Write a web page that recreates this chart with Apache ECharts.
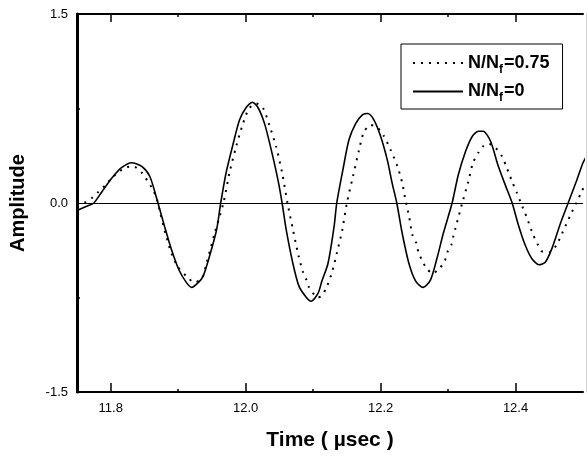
<!DOCTYPE html>
<html>
<head>
<meta charset="utf-8">
<script src="https://cdn.jsdelivr.net/npm/echarts@6/dist/echarts.min.js"></script>
<style>
html,body{margin:0;padding:0;background:#fff;}
#c{width:588px;height:456px;}
</style>
</head>
<body>
<div id="c"></div>
<script>
// Series names (legend order)
var seriesNames = ['N/Nf=0.75', 'N/Nf=0'];

// N/Nf = 0 (solid) : time (µsec), amplitude
var solidTime = [11.750,11.767,11.775,11.787,11.802,11.816,11.831,11.846,11.858,11.870,11.880,11.890,11.901,11.912,11.920,11.930,11.937,11.946,11.957,11.963,11.971,11.981,11.991,12.001,12.010,12.018,12.028,12.038,12.048,12.054,12.060,12.070,12.079,12.090,12.097,12.107,12.113,12.122,12.131,12.135,12.144,12.153,12.163,12.173,12.181,12.190,12.200,12.210,12.217,12.224,12.232,12.242,12.252,12.263,12.274,12.284,12.293,12.306,12.315,12.326,12.336,12.345,12.352,12.363,12.374,12.385,12.395,12.404,12.414,12.424,12.435,12.444,12.454,12.466,12.478,12.490,12.500,12.505];
var solidAmp  = [-0.06,-0.02,0.00,0.09,0.20,0.28,0.32,0.29,0.21,0.00,-0.19,-0.37,-0.53,-0.63,-0.67,-0.63,-0.58,-0.43,-0.21,0.00,0.24,0.46,0.66,0.76,0.80,0.76,0.63,0.42,0.18,0.00,-0.21,-0.48,-0.66,-0.75,-0.78,-0.72,-0.62,-0.48,-0.19,0.00,0.26,0.50,0.63,0.70,0.71,0.66,0.53,0.34,0.16,0.00,-0.24,-0.48,-0.62,-0.67,-0.61,-0.43,-0.24,0.00,0.22,0.41,0.53,0.57,0.57,0.49,0.30,0.14,0.00,-0.17,-0.33,-0.44,-0.49,-0.47,-0.36,-0.17,0.00,0.17,0.32,0.37];

// N/Nf = 0.75 (dotted)
var dotTime = [11.750,11.760,11.772,11.782,11.792,11.802,11.821,11.834,11.846,11.861,11.868,11.873,11.881,11.890,11.900,11.912,11.924,11.935,11.942,11.954,11.967,11.976,11.986,11.996,12.005,12.016,12.026,12.035,12.045,12.054,12.062,12.070,12.078,12.085,12.090,12.094,12.102,12.107,12.112,12.119,12.128,12.135,12.143,12.150,12.159,12.168,12.175,12.185,12.195,12.205,12.215,12.225,12.232,12.237,12.242,12.247,12.253,12.256,12.261,12.267,12.277,12.287,12.295,12.299,12.305,12.308,12.311,12.321,12.330,12.337,12.345,12.352,12.360,12.370,12.380,12.387,12.395,12.402,12.408,12.417,12.426,12.433,12.441,12.451,12.461,12.470,12.481,12.490,12.498,12.505];
var dotAmp  = [-0.02,0.00,0.04,0.09,0.14,0.20,0.28,0.29,0.24,0.12,0.04,-0.07,-0.24,-0.40,-0.51,-0.58,-0.63,-0.60,-0.48,-0.24,0.00,0.24,0.45,0.63,0.75,0.79,0.75,0.62,0.45,0.24,0.00,-0.21,-0.41,-0.55,-0.61,-0.67,-0.73,-0.75,-0.74,-0.68,-0.55,-0.40,-0.22,0.00,0.21,0.42,0.56,0.62,0.60,0.53,0.42,0.29,0.16,0.02,-0.10,-0.25,-0.32,-0.39,-0.45,-0.51,-0.56,-0.52,-0.46,-0.39,-0.33,-0.26,-0.20,0.00,0.17,0.32,0.40,0.45,0.47,0.44,0.37,0.28,0.17,0.08,0.00,-0.12,-0.25,-0.33,-0.39,-0.39,-0.33,-0.23,-0.10,0.00,0.09,0.17];

// Axis ticks
var xMajorTicks = [11.8, 12.0, 12.2, 12.4];
var xMinorTicks = [11.9, 12.1, 12.3];
var xMin = 11.75, xMax = 12.5;
var yMin = -1.5, yMax = 1.5, yStep = 1.5;

function zip(a, b) { var r = []; for (var i = 0; i < a.length; i++) r.push([a[i], b[i]]); return r; }

var FONT = '"Liberation Sans", Arial, Helvetica, sans-serif';
var chart = echarts.init(document.getElementById('c'), null, {renderer: 'canvas'});

function xAx(pos, ticks, len, showLine, showLabel, extra) {
  var o = {
    type: 'value', position: pos, min: xMin, max: xMax,
    axisLine: {show: showLine, onZero: false, lineStyle: {color: '#000', width: 2}},
    axisTick: {show: true, inside: true, length: len, customValues: ticks, lineStyle: {color: '#000', width: 1.5}},
    axisLabel: {show: showLabel, customValues: ticks, formatter: function (v) { return Number(v).toFixed(1); },
      fontSize: 13, color: '#000', fontFamily: FONT, margin: 10},
    splitLine: {show: false}
  };
  for (var k in extra) o[k] = extra[k];
  return o;
}

chart.setOption({
  animation: false,
  backgroundColor: '#fff',
  grid: {left: 75, right: 5, top: 14, bottom: 64, containLabel: false},
  legend: {
    orient: 'vertical', left: 401, top: 44,
    data: seriesNames,
    padding: [10, 13, 5, 11], itemGap: 7, itemWidth: 50, itemHeight: 14,
    borderColor: '#000', borderWidth: 1, borderRadius: 0,
    itemStyle: {color: 'transparent', borderColor: 'transparent', borderWidth: 0, opacity: 0},
    textStyle: {
      color: '#000', fontFamily: FONT,
      rich: {
        a: {fontSize: 18, fontWeight: 'bold', fontFamily: FONT, color: '#000'},
        s: {fontSize: 12, fontWeight: 'bold', fontFamily: FONT, color: '#000', padding: [13, 1, 0, 0]}
      }
    },
    formatter: function (name) {
      var rest = name.split('Nf')[1];
      return '{a|N/N}{s|f}{a|' + rest + '}';
    }
  },
  xAxis: [
    xAx('bottom', xMajorTicks, 9, true, true, {
      name: 'Time ( \u00b5sec )', nameLocation: 'middle', nameGap: 38,
      nameTextStyle: {fontSize: 21, fontWeight: 'bold', color: '#000', fontFamily: FONT}
    }),
    xAx('bottom', xMinorTicks, 3, false, false, {}),
    xAx('top', xMajorTicks, 8, true, false, {}),
    xAx('top', xMinorTicks, 3, false, false, {})
  ],
  yAxis: [
    {
      type: 'value', position: 'left', min: yMin, max: yMax, interval: yStep,
      axisLine: {show: true, onZero: false, lineStyle: {color: '#000', width: 3}},
      axisTick: {show: true, inside: true, length: 6, lineStyle: {color: '#000', width: 1}},
      minorTick: {show: true, splitNumber: 2, length: 3, lineStyle: {color: '#000', width: 1.5}},
      axisLabel: {formatter: function (v) { return Number(v).toFixed(1); }, fontSize: 13, color: '#000', fontFamily: FONT, margin: 9},
      splitLine: {show: true, lineStyle: {color: '#000', width: 1}},
      name: 'Amplitude', nameLocation: 'middle', nameGap: 49, nameRotate: 90,
      nameTextStyle: {fontSize: 20, fontWeight: 'bold', color: '#000', fontFamily: FONT}
    },
    {
      type: 'value', position: 'right', min: yMin, max: yMax, offset: 3,
      axisLine: {show: true, lineStyle: {color: '#d4d4d4', width: 1}},
      axisTick: {show: false}, axisLabel: {show: false}, splitLine: {show: false}
    }
  ],
  series: [
    {
      name: seriesNames[0], type: 'line', xAxisIndex: 0, yAxisIndex: 0,
      data: zip(dotTime, dotAmp), smooth: 0.25, symbol: 'none', showSymbol: false, clip: false,
      lineStyle: {color: '#000', width: 2, type: [2, 6], cap: 'butt'},
      itemStyle: {color: '#000'}
    },
    {
      name: seriesNames[1], type: 'line', xAxisIndex: 0, yAxisIndex: 0,
      data: zip(solidTime, solidAmp), smooth: 0.25, symbol: 'none', showSymbol: false, clip: false,
      lineStyle: {color: '#000', width: 1.6, type: 'solid'},
      itemStyle: {color: '#000'}
    }
  ]
});
</script>
</body>
</html>
